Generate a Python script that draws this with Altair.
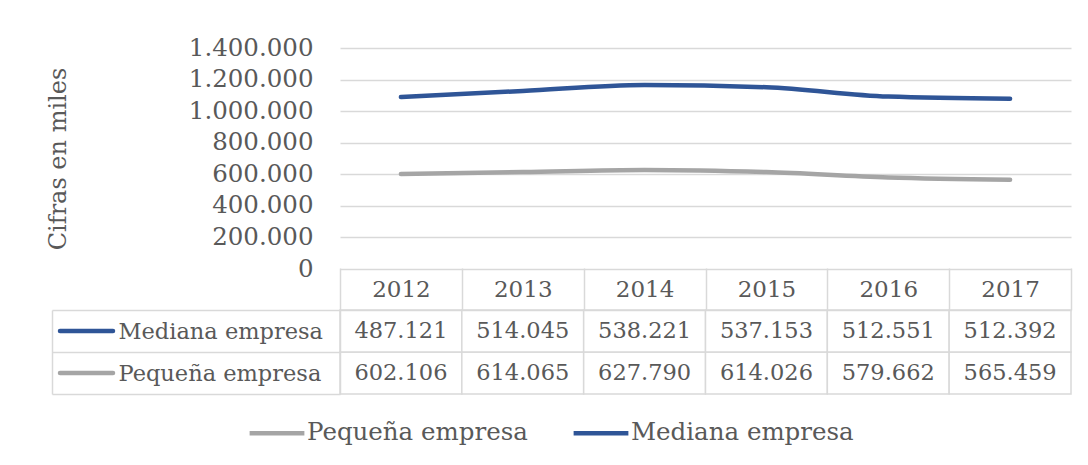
import altair as alt
import pandas as pd

years = ["2012", "2013", "2014", "2015", "2016", "2017"]
mediana = [487121, 514045, 538221, 537153, 512551, 512392]
pequena = [602106, 614065, 627790, 614026, 579662, 565459]
series_table = ["Mediana empresa", "Pequeña empresa"]
series_legend = ["Pequeña empresa", "Mediana empresa"]
series_colors = ["#A5A5A5", "#2F5597"]
y_ticks = [0, 200000, 400000, 600000, 800000, 1000000, 1200000, 1400000]
y_title = "Cifras en miles"

rows = []
for i, yr in enumerate(years):
    rows.append({"year": yr, "serie": "Pequeña empresa", "value": pequena[i], "ord": 0})
    rows.append({"year": yr, "serie": "Mediana empresa", "value": mediana[i], "ord": 1})
df = pd.DataFrame(rows)

FONT = "DejaVu Serif"
TXT = "#595959"
GRID = "#D9D9D9"
DOTS = "replace(format(datum.value, ','), /,/g, '.')"

x_scale = alt.Scale(type="band", domain=years, paddingInner=0, paddingOuter=0)
color_scale = alt.Scale(domain=series_legend, range=series_colors)

lines = (
    alt.Chart(df)
    .transform_stack(stack="value", groupby=["year"], as_=["y0", "y1"],
                     sort=[alt.SortField("ord", order="ascending")])
    .mark_line(strokeWidth=4.5, interpolate="monotone", strokeCap="round")
    .encode(
        x=alt.X("year:N", scale=x_scale, axis=None),
        y=alt.Y("y1:Q", scale=alt.Scale(domain=[0, 1400000], nice=False),
                axis=alt.Axis(values=y_ticks, labelExpr=DOTS, title=y_title,
                              grid=True, gridColor=GRID, gridWidth=1.3,
                              domain=False, ticks=False, labelPadding=27,
                              labelFont=FONT, labelFontSize=24.5, labelColor=TXT,
                              titleFont=FONT, titleFontSize=24, titleColor=TXT,
                              titleFontWeight="normal", titlePadding=118)),
        color=alt.Color("serie:N", scale=color_scale,
                        legend=alt.Legend(orient="none", legendX=-93, legendY=355,
                                          direction="horizontal", title=None,
                                          symbolType="stroke", symbolStrokeWidth=4.5,
                                          symbolSize=3000, labelFont=FONT,
                                          labelFontSize=24.5, labelColor=TXT,
                                          labelLimit=500,
                                          columnPadding=36, labelOffset=0)),
        order=alt.Order("ord:Q"),
    )
    .properties(width=731, height=221)
)

y_tab_scale = alt.Scale(domain=series_table, paddingInner=0, paddingOuter=0)

cells = alt.Chart(df).mark_rect(fill="white", stroke=GRID, strokeWidth=1.5).encode(
    x=alt.X("year:N", scale=x_scale,
            axis=alt.Axis(orient="top", title=None, labelAngle=0, tickBand="extent",
                          tickSize=42, tickColor=GRID, tickWidth=1.5,
                          domainColor=GRID, domainWidth=1.5, labelPadding=-21,
                          labelBaseline="middle", labelFont=FONT, labelFontSize=23,
                          labelColor=TXT)),
    y=alt.Y("serie:N", scale=y_tab_scale,
            axis=alt.Axis(orient="left", title=None, tickBand="extent", tickSize=288,
                          tickColor=GRID, tickWidth=1.5, domainColor=GRID,
                          domainWidth=1.5, labelAlign="left", labelPadding=-66,
                          labelLimit=500,
                          labelBaseline="middle", labelFont=FONT, labelFontSize=22.5,
                          labelColor=TXT)),
)

texts = (
    alt.Chart(df)
    .transform_calculate(label=DOTS)
    .mark_text(font=FONT, fontSize=22.5, color=TXT, baseline="middle")
    .encode(
        x=alt.X("year:N", scale=x_scale, axis=None),
        y=alt.Y("serie:N", scale=y_tab_scale, axis=None),
        text="label:N",
    )
)

swatches = (
    alt.Chart(df)
    .transform_filter("datum.year == '2012'")
    .mark_rule(strokeWidth=4.5, strokeCap="round")
    .encode(
        x=alt.value(-280),
        x2=alt.value(-227),
        y=alt.Y("serie:N", scale=y_tab_scale, axis=None),
        stroke=alt.Stroke("serie:N", scale=color_scale, legend=None),
    )
)

border = (
    alt.Chart(df)
    .mark_rect(opacity=0)
    .encode(
        x=alt.X("year:N", scale=x_scale, axis=None),
        y=alt.Y("serie:N", scale=y_tab_scale,
                axis=alt.Axis(orient="left", offset=288, title=None, labels=False,
                              ticks=False, domainColor=GRID, domainWidth=1.5)),
    )
)

table = (
    alt.layer(cells, texts, swatches, border)
    .resolve_axis(x="independent", y="independent")
    .properties(width=731, height=84)
)

chart = (
    alt.vconcat(lines, table, spacing=-14)
    .properties(padding={"left": 38, "top": 27, "right": 5, "bottom": 5})
    .configure_view(stroke=None)
)

chart.save("out.html", embed_options={"renderer": "svg", "actions": False})
